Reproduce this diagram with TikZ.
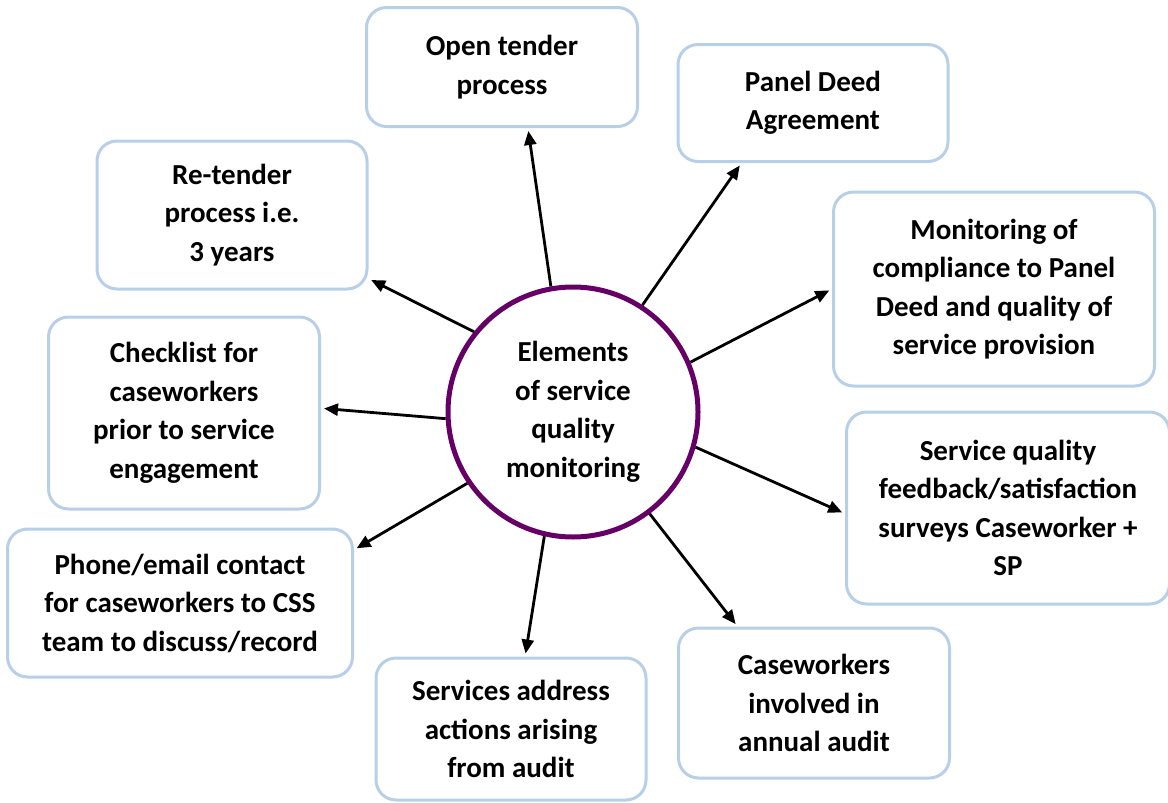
\documentclass[tikz,border=0pt]{standalone}
\usepackage{fontspec}
\setmainfont{Carlito}
\usepackage{tikz}
\usetikzlibrary{arrows.meta}
\definecolor{boxblue}{RGB}{184,207,232}
\definecolor{ringpurple}{RGB}{102,0,102}
\tikzset{
  elem/.style={draw=boxblue, line width=3pt, rounded corners=20pt, fill=white,
    align=center, inner sep=0pt, font=\fontsize{29}{38.5}\selectfont\bfseries},
  hub/.style={circle, draw=ringpurple, line width=5pt, minimum size=250pt,
    align=center, inner sep=0pt, font=\fontsize{29}{38.5}\selectfont\bfseries},
  spoke/.style={-{Triangle[length=14pt,width=12pt]}, line width=2.8pt, shorten >=3pt}
}
\begin{document}
\begin{tikzpicture}[x=1pt,y=-1pt]
\useasboundingbox (0,0) rectangle (1168,803);
% centre
\node[hub] (c) at (573,412) {Elements\\of service\\quality\\monitoring};
% boxes
\node[elem, minimum width=271pt, minimum height=119pt] (open) at (502,67) {Open tender\\process};
\node[elem, minimum width=270pt, minimum height=117pt] (deed) at (813,103) {Panel Deed\\Agreement};
\node[elem, minimum width=270pt, minimum height=148pt] (retender) at (232,215) {Re-tender\\process i.e.\\3 years};
\node[elem, minimum width=321pt, minimum height=194pt] (monitor) at (994,289) {Monitoring of\\compliance to Panel\\Deed and quality of\\service provision};
\node[elem, minimum width=271pt, minimum height=192pt] (check) at (184,413) {Checklist for\\caseworkers\\prior to service\\engagement};
\node[elem, minimum width=323pt, minimum height=192pt] (survey) at (1008,508) {Service quality\\feedback/satisfaction\\surveys Caseworker +\\SP};
\node[elem, minimum width=345pt, minimum height=148pt] (phone) at (180,603) {Phone/email contact\\for caseworkers to CSS\\team to discuss/record};
\node[elem, minimum width=270pt, minimum height=142pt] (address) at (511,729) {Services address\\actions arising\\from audit};
\node[elem, minimum width=271pt, minimum height=150pt] (audit) at (814,703) {Caseworkers\\involved in\\annual audit};
% spokes
\path[spoke]
  (c.100) edge (open.-67)
  (c.57)  edge (deed.-140)
  (c.141) edge (retender.-25)
  (c.23)  edge (monitor.180)
  (c.183) edge (check.2)
  (c.-16) edge (survey.182)
  (c.214) edge (phone.17)
  (c.257) edge (address.79)
  (c.307) edge (audit.135);
\end{tikzpicture}
\end{document}
